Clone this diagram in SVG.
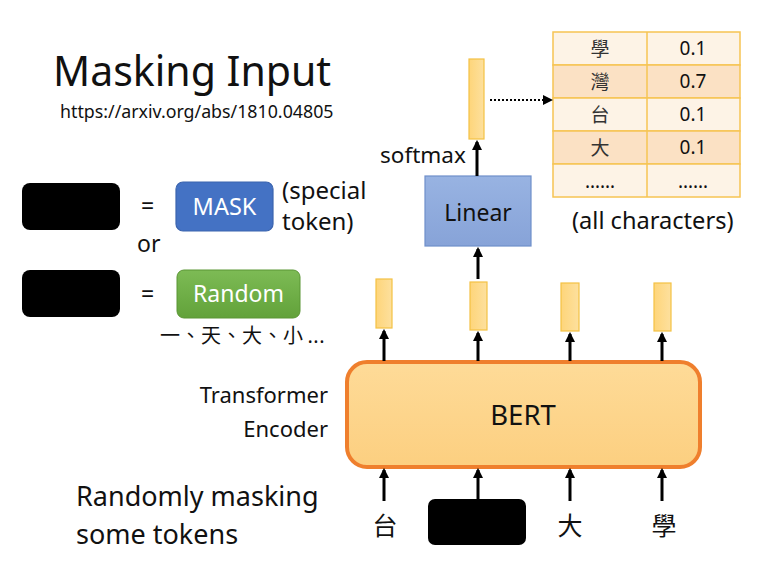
<svg xmlns="http://www.w3.org/2000/svg" width="767" height="562" viewBox="0 0 767 562">
<style>
text{font-family:"Noto Sans","Noto Sans CJK TC",sans-serif;fill:#111}
.cjk{font-family:"Noto Sans CJK TC","Noto Sans",sans-serif}
.vec{fill:url(#gVec);stroke:#f4c144;stroke-width:1.2}
.arr{stroke:#000;stroke-width:3;fill:none;marker-end:url(#ah)}
.blk{fill:#000}
.cell{stroke:#f6c453;stroke-width:1.5}
</style>
<defs>
<marker id="ah" viewBox="0 0 10 10" refX="8" refY="5" markerWidth="3.5" markerHeight="3.5" orient="auto" markerUnits="strokeWidth">
<path d="M0,0 L10,5 L0,10 z" fill="#000"/>
</marker>
<marker id="ahs" viewBox="0 0 10 10" refX="8" refY="5" markerWidth="5" markerHeight="5" orient="auto" markerUnits="strokeWidth">
<path d="M0,0 L10,5 L0,10 z" fill="#000"/>
</marker>
<linearGradient id="gVec" x1="0" y1="0" x2="1" y2="0"><stop offset="0" stop-color="#fed57a"/><stop offset="1" stop-color="#fde09e"/></linearGradient>
<linearGradient id="gBert" x1="0" y1="0" x2="0" y2="1"><stop offset="0" stop-color="#fedb98"/><stop offset="1" stop-color="#fccf80"/></linearGradient>
<linearGradient id="gGreen" x1="0" y1="0" x2="0" y2="1"><stop offset="0" stop-color="#7dbb55"/><stop offset="1" stop-color="#62a23a"/></linearGradient>
<linearGradient id="gBlue" x1="0" y1="0" x2="0" y2="1"><stop offset="0" stop-color="#98b3e2"/><stop offset="1" stop-color="#87a3d8"/></linearGradient>
</defs>

<g id="title">
<text x="53" y="86" font-size="41">Masking Input</text>
<text x="60" y="118" font-size="17.8">https://arxiv.org/abs/1810.04805</text>
</g>

<g id="legend-mask">
<rect x="22" y="183" width="98" height="47" rx="8" class="blk"/>
<text x="141" y="214" font-size="23">=</text>
<rect x="176" y="182" width="97" height="49" rx="7" fill="#4472c4" stroke="#3b64ae" stroke-width="1.2"/>
<text x="224.5" y="215" font-size="23.5" text-anchor="middle" style="fill:#fff">MASK</text>
<text x="282" y="199" font-size="24">(special</text>
<text x="282" y="230" font-size="24">token)</text>
</g>
<g id="legend-or"><text x="137" y="252" font-size="23">or</text></g>
<g id="legend-random">
<rect x="22" y="270" width="98" height="47" rx="8" class="blk"/>
<text x="141" y="302" font-size="23">=</text>
<rect x="177" y="270" width="123" height="48" rx="7" fill="url(#gGreen)" stroke="#5a9634" stroke-width="1"/>
<text x="238.5" y="302" font-size="23" text-anchor="middle" style="fill:#fff">Random</text>
<text x="160" y="343" font-size="20" class="cjk" letter-spacing="0.5">一、天、大、小<tspan dx="4" style="font-family:'Noto Sans',sans-serif">...</tspan></text>
</g>

<g id="encoder-label">
<text x="328" y="403" font-size="22" text-anchor="end">Transformer</text>
<text x="328" y="437" font-size="22" text-anchor="end">Encoder</text>
</g>
<g id="caption">
<text x="76" y="506" font-size="27">Randomly masking</text>
<text x="76" y="544" font-size="27">some tokens</text>
</g>

<g id="bert">
<rect x="347" y="362" width="353" height="105" rx="20" fill="url(#gBert)" stroke="#ef7f2d" stroke-width="4"/>
<text x="523" y="425" font-size="27.5" text-anchor="middle">BERT</text>
</g>

<g id="out-vectors">
<rect x="376" y="279" width="16" height="49" class="vec"/>
<rect x="470" y="282" width="17" height="48" class="vec"/>
<rect x="561" y="283" width="18" height="48" class="vec"/>
<rect x="654" y="283" width="17" height="48" class="vec"/>
</g>

<g id="linear">
<rect x="425" y="176" width="106" height="70" fill="url(#gBlue)" stroke="#6f8fca" stroke-width="1.2"/>
<text x="478" y="221" font-size="23" text-anchor="middle">Linear</text>
</g>

<g id="softmax-vector">
<rect x="469" y="59" width="15" height="80" class="vec"/>
<text x="380" y="163" font-size="22.5">softmax</text>
</g>

<g id="inputs">
<text x="385" y="535" font-size="25" text-anchor="middle" class="cjk">台</text>
<rect x="428" y="499" width="98" height="46" rx="7" class="blk"/>
<text x="570" y="535" font-size="25" text-anchor="middle" class="cjk">大</text>
<text x="664" y="535" font-size="25" text-anchor="middle" class="cjk">學</text>
</g>

<g id="table">
<rect x="553" y="32" width="187" height="33" fill="#fdf3e6" class="cell"/>
<rect x="553" y="65" width="187" height="33" fill="#fbe1c4" class="cell"/>
<rect x="553" y="98" width="187" height="33" fill="#fdf3e6" class="cell"/>
<rect x="553" y="131" width="187" height="33" fill="#fbe1c4" class="cell"/>
<rect x="553" y="164" width="187" height="33" fill="#fdf3e6" class="cell"/>
<line x1="647" y1="32" x2="647" y2="197" class="cell"/>
<g font-size="19" text-anchor="middle">
<text x="600" y="56" class="cjk" style="fill:#333">學</text>
<text x="600" y="89" class="cjk" style="fill:#333">灣</text>
<text x="600" y="122" class="cjk" style="fill:#333">台</text>
<text x="600" y="155" class="cjk" style="fill:#333">大</text>
<text x="600" y="188">……</text>
<text x="693" y="55">0.1</text>
<text x="693" y="88">0.7</text>
<text x="693" y="121">0.1</text>
<text x="693" y="154">0.1</text>
<text x="693" y="188">……</text>
</g>
<text x="572" y="229" font-size="23.6">(all characters)</text>
</g>

<g id="connectors">
<line x1="384" y1="361" x2="384" y2="331" class="arr"/>
<line x1="478" y1="361" x2="478" y2="333" class="arr"/>
<line x1="570" y1="361" x2="570" y2="334" class="arr"/>
<line x1="662" y1="361" x2="662" y2="334" class="arr"/>
<line x1="478" y1="279" x2="478" y2="249" class="arr"/>
<line x1="477" y1="176" x2="477" y2="142" class="arr"/>
<line x1="384" y1="501" x2="384" y2="470" class="arr"/>
<line x1="478" y1="499" x2="478" y2="470" class="arr"/>
<line x1="570" y1="501" x2="570" y2="470" class="arr"/>
<line x1="662" y1="501" x2="662" y2="470" class="arr"/>
<line x1="490" y1="100" x2="551" y2="100" stroke="#000" stroke-width="2" stroke-dasharray="2 2" marker-end="url(#ahs)"/>
</g>
</svg>
